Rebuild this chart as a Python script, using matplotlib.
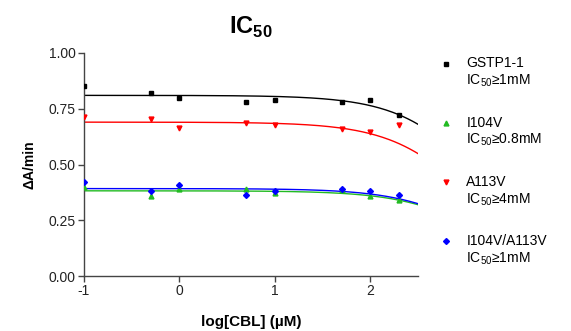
import numpy as np
import matplotlib
matplotlib.use("Agg")
import matplotlib.pyplot as plt
from matplotlib.legend_handler import HandlerLine2D

plt.rcParams['font.family'] = ['Liberation Sans', 'DejaVu Sans']
plt.rcParams['mathtext.fontset'] = 'custom'
plt.rcParams['mathtext.rm'] = 'Liberation Sans'
plt.rcParams['mathtext.bf'] = 'Liberation Sans:bold'

log_conc = [-1, -0.3, 0, 0.7, 1, 1.7, 2, 2.3]

wt = [0.85, 0.82, 0.80, 0.78, 0.79, 0.78, 0.79, 0.72]
i104v = [0.40, 0.36, 0.39, 0.39, 0.37, 0.385, 0.36, 0.34]
a113v = [0.715, 0.705, 0.665, 0.685, 0.675, 0.66, 0.645, 0.675]
double = [0.42, 0.38, 0.41, 0.365, 0.38, 0.39, 0.38, 0.365]

# fitted curve parameters (top, logIC50)
fit_wt = (0.81, 3.22)
fit_i104v = (0.382, 3.21)
fit_a113v = (0.69, 3.09)
fit_double = (0.392, 3.18)

labels = ["GSTP1-1\nIC$_{50}$≥1mM", "I104V\nIC$_{50}$≥0.8mM",
          "A113V\nIC$_{50}$≥4mM", "I104V/A113V\nIC$_{50}$≥1mM"]


class ShiftedHandler(HandlerLine2D):
    def __init__(self, dy, **kw):
        super().__init__(**kw)
        self.dy = dy

    def create_artists(self, legend, orig_handle, xdescent, ydescent, width,
                       height, fontsize, trans):
        arts = super().create_artists(legend, orig_handle, xdescent, ydescent,
                                      width, height, fontsize, trans)
        for a in arts:
            y = np.asarray(a.get_ydata(), dtype=float)
            a.set_ydata(y + self.dy)
        return arts


fig = plt.figure(figsize=(5.71, 3.31), dpi=100)
ax = fig.add_axes([84/571, 1-276/331, (418-84)/571, (276-53)/331])

xs = np.linspace(-1, 2.5, 200)
def curve(p):
    top, L = p
    return top / (1 + 10 ** (xs - L))

series = [
    (wt, fit_wt, 'black', 's', labels[0], 3.5),
    (i104v, fit_i104v, '#22bb22', '^', labels[1], 3.5),
    (a113v, fit_a113v, 'red', 'v', labels[2], 3.5),
    (double, fit_double, 'blue', 'D', labels[3], 3),
]
handles = []
for vals, fit, c, m, lab, ms in series:
    ax.plot(xs, curve(fit), color=c, lw=1.0, zorder=2 if c != 'blue' else 3)
    h, = ax.plot(log_conc, vals, ls='none', marker=m, color=c, ms=ms, zorder=4,
                 label=lab)
    handles.append(h)

ax.set_xlim(-1, 2.5)
ax.set_ylim(0, 1.0)
ax.set_xticks([-1, 0, 1, 2])
ax.set_xticklabels(['-1', '0', '1', '2'])
ax.set_yticks([0, 0.25, 0.5, 0.75, 1.0])
ax.set_yticklabels(['0.00', '0.25', '0.50', '0.75', '1.00'])
for s in ['top', 'right']:
    ax.spines[s].set_visible(False)
for s in ['left', 'bottom']:
    ax.spines[s].set_color('#444444')
    ax.spines[s].set_linewidth(1.0)
ax.tick_params(direction='out', length=4, width=1, color='#444444',
               labelsize=10, labelcolor='#222222', pad=2)

ax.set_xlabel('log[CBL] (µM)', fontsize=11, fontweight='bold', labelpad=12)
ax.set_ylabel('ΔA/min', fontsize=10, fontweight='bold', labelpad=9)
ax.set_title(r'IC$_{\mathbf{50}}$', fontsize=17, fontweight='bold', pad=14)

hmap = {h: ShiftedHandler(7) for h in handles}
leg = ax.legend(handles=handles, loc='upper left', bbox_to_anchor=(1.045, 1.01),
                frameon=False, fontsize=10, labelspacing=1.9, handlelength=1.0,
                handletextpad=1.0, borderaxespad=0, handler_map=hmap)

fig.savefig('out.png', dpi=100)
